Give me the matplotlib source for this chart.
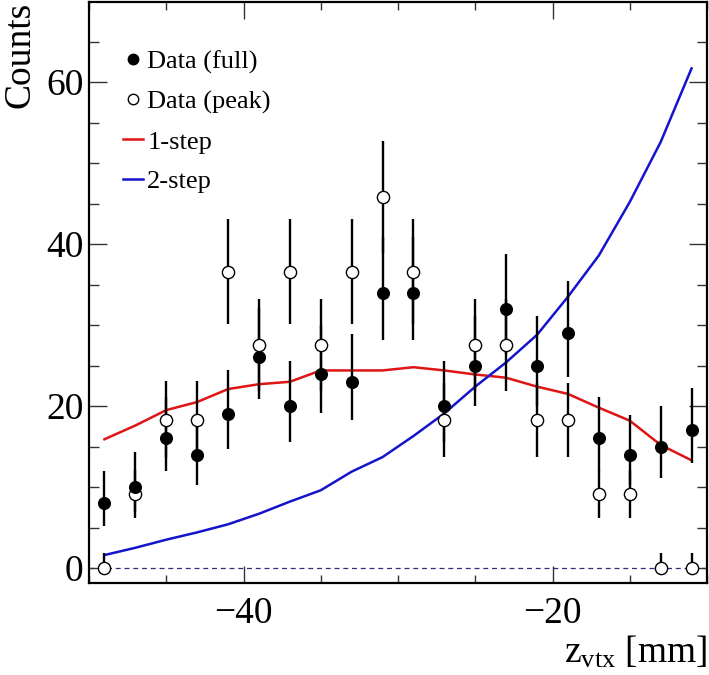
import matplotlib
matplotlib.use("Agg")
import matplotlib.pyplot as plt
from matplotlib.ticker import MultipleLocator
from matplotlib.lines import Line2D

plt.rcParams['font.family'] = ['Liberation Serif', 'DejaVu Serif']
plt.rcParams['axes.unicode_minus'] = True
plt.rcParams['mathtext.fontset'] = 'custom'
plt.rcParams['mathtext.rm'] = 'Liberation Serif'
plt.rcParams['mathtext.it'] = 'Liberation Serif:italic'

# bin centres [mm]
z = [-49, -47, -45, -43, -41, -39, -37, -35, -33, -31,
     -29, -27, -25, -23, -21, -19, -17, -15, -13, -11]

full = [8, 10, 16, 14, 19, 26, 20, 24, 23, 34,
        34, 20, 25, 32, 25, 29, 16, 14, 15, 17]
full_lo = [2.78, 3.12, 3.97, 3.71, 4.33, 5.07, 4.44, 4.87, 4.77, 5.81,
           5.81, 4.44, 4.97, 5.63, 4.97, 5.36, 3.97, 3.71, 3.84, 4.09]
full_hi = [3.96, 4.28, 5.09, 4.84, 5.44, 6.17, 5.56, 5.97, 5.87, 6.89,
           6.89, 5.56, 6.07, 6.72, 6.07, 6.45, 5.09, 4.84, 4.97, 5.21]

peak = [0, 9.15, 18.3, 18.3, 36.6, 27.5, 36.6, 27.5, 36.6, 45.8,
        36.6, 18.3, 27.5, 27.5, 18.3, 18.3, 9.15, 9.15, 0, 0]
peak_lo = [0, 3.0, 4.7, 4.7, 6.45, 5.7, 6.45, 5.7, 6.45, 6.9,
           6.45, 4.6, 5.7, 5.7, 4.6, 4.6, 3.0, 3.0, 0, 0]
peak_hi = [1.83, 3.0, 4.8, 4.8, 6.45, 5.7, 6.45, 5.7, 6.45, 6.9,
           6.45, 4.6, 5.7, 5.7, 4.6, 4.6, 3.0, 3.0, 1.83, 1.83]

one_step = [15.9, 17.6, 19.5, 20.5, 22.1, 22.7, 23.0, 24.4, 24.4, 24.4,
            24.8, 24.4, 23.9, 23.5, 22.4, 21.5, 19.8, 18.2, 15.2, 13.3]
two_step = [1.6, 2.5, 3.5, 4.4, 5.4, 6.7, 8.2, 9.6, 11.9, 13.7,
            16.3, 19.1, 22.4, 25.4, 28.8, 33.5, 38.6, 45.2, 52.6, 61.7]

legend_labels = ['Data (full)', 'Data (peak)', '1-step', '2-step']

W, H = 709, 675
fig = plt.figure(figsize=(W / 100, H / 100), dpi=100)
L, R, T, B = 89, 707, 2, 583
ax = fig.add_axes([L / W, 1 - B / H, (R - L) / W, (B - T) / H])

ax.set_xlim(-50, -10)
ax.set_ylim(-1.85, 69.9)

red = '#e01414'
blue = '#1414cc'

ax.axhline(0, color='#2e2e80', lw=0.9, ls=(0, (4, 3)), zorder=1)

ax.plot(z, one_step, color=red, lw=1.8, zorder=2)
ax.plot(z, two_step, color=blue, lw=1.8, zorder=2)

ax.errorbar(z, peak, yerr=[peak_lo, peak_hi], fmt='none', ecolor='black',
            elinewidth=1.7, capsize=0, zorder=3)
ax.errorbar(z, full, yerr=[full_lo, full_hi], fmt='none', ecolor='black',
            elinewidth=1.7, capsize=0, zorder=3)
h_peak, = ax.plot(z, peak, ls='none', marker='o', ms=8.8, mfc='white',
                  mec='black', mew=1.0, zorder=4)
h_full, = ax.plot(z, full, ls='none', marker='o', ms=8.4, mfc='black',
                  mec='black', zorder=5)

h1 = Line2D([], [], color=red, lw=1.8)
h2 = Line2D([], [], color=blue, lw=1.8)
leg = ax.legend([h_full, h_peak, h1, h2], legend_labels,
                loc='upper left', bbox_to_anchor=(0.0545, 0.918),
                frameon=False, fontsize=19, handlelength=0.76,
                handletextpad=0.17, labelspacing=0.62, borderaxespad=0,
                borderpad=0)
h_leg = leg.legend_handles
h_leg[0].set_markersize(7.5)
h_leg[1].set_markersize(7.5)

ax.xaxis.set_major_locator(MultipleLocator(20))
ax.xaxis.set_minor_locator(MultipleLocator(5))
ax.yaxis.set_major_locator(MultipleLocator(20))
ax.yaxis.set_minor_locator(MultipleLocator(5))
ax.tick_params(which='both', direction='in', top=True, right=True,
               labelsize=27, width=1.0, color='#333333')
ax.tick_params(axis='x', which='major', length=12, pad=10)
ax.tick_params(axis='x', which='minor', length=6)
ax.tick_params(axis='y', which='major', length=13, pad=4)
ax.tick_params(axis='y', which='minor', length=7)
for s in ax.spines.values():
    s.set_linewidth(1.6)

ax.set_ylabel('Counts', fontsize=27, loc='top', labelpad=6)
ax.set_xlabel(r'z$_{\mathrm{vtx}}$ [mm]', fontsize=27, loc='right')
ax.xaxis.set_label_coords(1.0, -0.088)

fig.savefig('out.png', dpi=100)
